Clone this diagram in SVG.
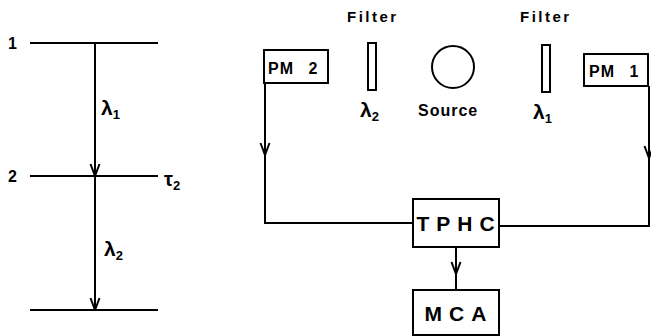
<svg xmlns="http://www.w3.org/2000/svg" width="651" height="336" viewBox="0 0 651 336">
<style>
.ln{stroke:#000;stroke-width:2;fill:none}
.bx{stroke:#000;stroke-width:2;fill:#fff}
.t{font-family:"Liberation Sans",Arial,sans-serif;font-weight:bold;fill:#000}
</style>
<defs>
<marker id="v" markerWidth="14" markerHeight="12" refX="13" refY="6" orient="auto" markerUnits="userSpaceOnUse" viewBox="0 0 14 12">
<path d="M1,1.5 L13,6 L1,10.5" fill="none" stroke="#000" stroke-width="2"/>
</marker>
</defs>
<rect width="651" height="336" fill="#fff"/>
<g id="levels">
<line class="ln" x1="30" y1="43" x2="158" y2="43"/>
<line class="ln" x1="30" y1="176" x2="158" y2="176"/>
<line class="ln" x1="30" y1="310" x2="158" y2="310"/>
<text class="t" x="8" y="49" font-size="16">1</text>
<text class="t" x="8" y="182" font-size="16">2</text>
<text class="t" x="164" y="186" font-size="20">τ<tspan font-size="13" dy="4">2</tspan></text>
<text class="t" x="101" y="115" font-size="21">λ<tspan font-size="13" dy="4">1</tspan></text>
<text class="t" x="104" y="256" font-size="21">λ<tspan font-size="13" dy="4">2</tspan></text>
</g>
<g id="pm2"><rect class="bx" x="264" y="50" width="64" height="33"/><text class="t" x="268" y="74" font-size="16" letter-spacing="1" word-spacing="9">PM 2</text></g>
<g id="pm1"><rect class="bx" x="584" y="54" width="64" height="32"/><text class="t" x="589" y="77" font-size="16" letter-spacing="1" word-spacing="9">PM 1</text></g>
<g id="filter2"><rect class="bx" x="368" y="43" width="8" height="47" stroke-width="1.6"/><text class="t" x="347" y="22" font-size="15" letter-spacing="2.5">Filter</text><text class="t" x="360" y="117" font-size="21">λ<tspan font-size="13" dy="4">2</tspan></text></g>
<g id="source"><circle class="ln" cx="453" cy="67" r="21"/><text class="t" x="418" y="116" font-size="16" letter-spacing="1">Source</text></g>
<g id="filter1"><rect class="bx" x="542" y="45" width="8" height="47" stroke-width="1.6"/><text class="t" x="520" y="22" font-size="15" letter-spacing="2.5">Filter</text><text class="t" x="533" y="119" font-size="21">λ<tspan font-size="13" dy="4">1</tspan></text></g>
<g id="tphc"><rect class="bx" x="413" y="199" width="86" height="48"/><text class="t" x="459" y="231" font-size="21" letter-spacing="7" text-anchor="middle">TPHC</text></g>
<g id="mca"><rect class="bx" x="413" y="290" width="86" height="45"/><text class="t" x="459" y="321" font-size="21" letter-spacing="7" text-anchor="middle">MCA</text></g>
<g id="connectors">
<line class="ln" x1="95" y1="43" x2="95" y2="176" marker-end="url(#v)"/>
<line class="ln" x1="95" y1="176" x2="95" y2="310" marker-end="url(#v)"/>
<line class="ln" x1="265" y1="83" x2="265" y2="155" marker-end="url(#v)"/>
<polyline class="ln" points="265,150 265,223 413,223"/>
<line class="ln" x1="649" y1="86" x2="649" y2="158" marker-end="url(#v)"/>
<polyline class="ln" points="649,150 649,226 499,226"/>
<line class="ln" x1="456" y1="247" x2="456" y2="274" marker-end="url(#v)"/>
<line class="ln" x1="456" y1="270" x2="456" y2="290"/>
</g>
</svg>
